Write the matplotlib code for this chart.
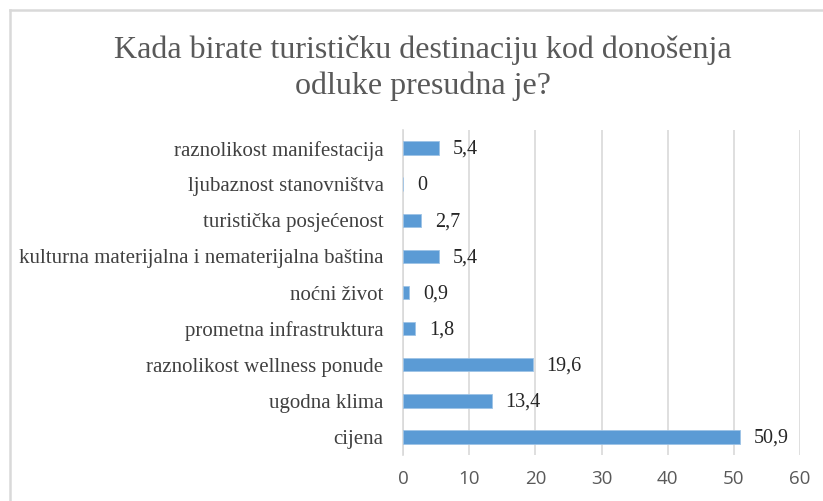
import matplotlib.pyplot as plt
from matplotlib.lines import Line2D

# data (top to bottom as shown)
categories = ['raznolikost manifestacija', 'ljubaznost stanovništva', 'turistička posjećenost',
              'kulturna materijalna i nematerijalna baština', 'noćni život', 'prometna infrastruktura',
              'raznolikost wellness ponude', 'ugodna klima', 'cijena']
values = [5.4, 0, 2.7, 5.4, 0.9, 1.8, 19.6, 13.4, 50.9]
xticks = [0, 10, 20, 30, 40, 50, 60]

serif = 'Liberation Serif'

fig = plt.figure(figsize=(8.23, 5.01), dpi=100)
ax = fig.add_axes([403 / 823, 46 / 501, 397 / 823, 325 / 501])

pos = list(range(len(categories)))[::-1]
ax.barh(pos, values, height=0.37, color='#5B9BD5', edgecolor='#9DC3E6', linewidth=0.6, zorder=3)

for p, v in zip(pos, values):
    ax.annotate(f'{v:g}'.replace('.', ','), (v, p), xytext=(10, -1), textcoords='offset points',
                va='center', ha='left', fontsize=14.5, family=serif, color='#262626')

ax.set_xlim(0, 60)
ax.set_ylim(-0.5, 8.5)
ax.set_xticks(xticks)
ax.set_xticklabels([str(t) for t in xticks], family='Open Sans', fontsize=13.5, color='#595959')
ax.set_yticks(pos)
ax.set_yticklabels(categories, family=serif, fontsize=15, color='#404040')
ax.tick_params(axis='both', length=0)
ax.tick_params(axis='x', pad=11)
ax.tick_params(axis='y', pad=14)
ax.grid(axis='x', color='#d9d9d9', linewidth=1.2, zorder=0)
for s in ['top', 'right', 'bottom']:
    ax.spines[s].set_visible(False)
ax.spines['left'].set_color('#d9d9d9')
ax.spines['left'].set_linewidth(1.2)

fig.text(423 / 823, 1 - 68 / 501, 'Kada birate turističku destinaciju kod donošenja\nodluke presudna je?',
         ha='center', va='center', fontsize=23, family=serif, color='#595959', linespacing=1.32)

# chart frame (only left and top edges visible)
fig.add_artist(Line2D([9.5 / 823, 9.5 / 823], [0, 1 - 9.5 / 501], transform=fig.transFigure,
                      color='#d9d9d9', linewidth=1.8))
fig.add_artist(Line2D([9.5 / 823, 1], [1 - 9.5 / 501, 1 - 9.5 / 501], transform=fig.transFigure,
                      color='#d9d9d9', linewidth=1.8))

fig.savefig('out.png', dpi=100)
